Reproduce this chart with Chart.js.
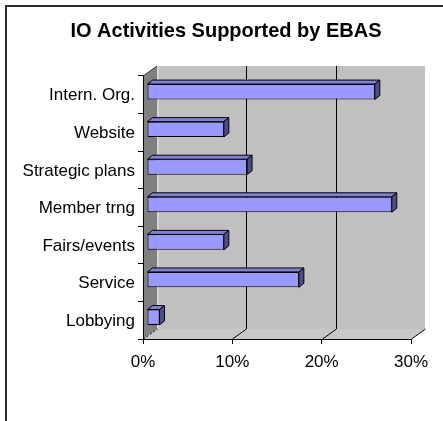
<!DOCTYPE html>
<html>
<head>
<meta charset="utf-8">
<title>IO Activities Supported by EBAS</title>
<script src="https://cdn.jsdelivr.net/npm/chart.js@4/dist/chart.umd.min.js"></script>
<style>
    html, body { margin: 0; padding: 0; background: #fff; overflow: hidden; }
    #box { position: absolute; left: 0; top: 0; width: 443px; height: 421px; }
    #frame { position: absolute; left: 5px; top: 5px; width: 460px; height: 440px;
             border-top: 2px solid #2b2b2b; border-left: 2px solid #2b2b2b; }
</style>
</head>
<body>
<div id="frame"></div>
<div id="box"><canvas id="grafico"></canvas></div>
<script>
var categorias = ["Intern. Org.", "Website", "Strategic plans", "Member trng", "Fairs/events", "Service", "Lobbying"];
var percentuais = [25.5, 8.6, 11.2, 27.4, 8.6, 17.0, 1.4];
var ticksX = [0, 10, 20, 30];

// profundidade da caixa 3D e das barras
var PROF_X = 14, PROF_Y = -10;
var DESL_X = 4, DESL_Y = -3;
var BARRA_X = 5, BARRA_Y = -4;

function poligono(ctx, pts, fill, stroke) {
    ctx.beginPath();
    ctx.moveTo(pts[0][0], pts[0][1]);
    for (var i = 1; i < pts.length; i++) ctx.lineTo(pts[i][0], pts[i][1]);
    ctx.closePath();
    if (fill) { ctx.fillStyle = fill; ctx.fill(); }
    if (stroke) { ctx.strokeStyle = stroke; ctx.lineWidth = 1; ctx.stroke(); }
}

var caixa3d = {
    id: "caixa3d",
    afterLayout: function (chart) {
        // título centralizado sobre a caixa inteira (frente + fundo)
        var t = chart.titleBlock;
        t.left = 41;
        t.right = 411;
        t.width = t.right - t.left;
    },
    beforeDraw: function (chart) {
        var ctx = chart.ctx, a = chart.chartArea, sx = chart.scales.x;
        var L = a.left, R = a.right, T = a.top, B = a.bottom;
        ctx.save();
        // parede do fundo
        poligono(ctx, [[L + PROF_X, T + PROF_Y], [R + PROF_X, T + PROF_Y], [R + PROF_X, B + PROF_Y], [L + PROF_X, B + PROF_Y]], "#c0c0c0");
        // piso
        poligono(ctx, [[L, B], [L + PROF_X, B + PROF_Y], [R + PROF_X, B + PROF_Y], [R, B]], "#c8c8c8");
        // parede lateral
        poligono(ctx, [[L, T], [L + PROF_X, T + PROF_Y], [L + PROF_X, B + PROF_Y], [L, B]], "#808080");
        ctx.fillStyle = "#d6d6d6";
        ctx.fillRect(L + PROF_X, T + PROF_Y, 2, B - T);
        ctx.strokeStyle = "#3a3a3a";
        ctx.lineWidth = 1;
        ctx.beginPath();
        ctx.moveTo(L, T); ctx.lineTo(L + PROF_X, T + PROF_Y);
        ctx.stroke();
        // linhas de grade no fundo e no piso
        ctx.strokeStyle = "#000";
        ticksX.forEach(function (v) {
            var px = Math.round(sx.getPixelForValue(v)) + 0.5;
            ctx.beginPath();
            if (v > 0 && v < sx.max) {
                ctx.moveTo(px + PROF_X, T + PROF_Y);
                ctx.lineTo(px + PROF_X, B + PROF_Y);
            }
            ctx.moveTo(px, B);
            ctx.lineTo(px + PROF_X, B + PROF_Y);
            ctx.setLineDash(v === 0 ? [2, 2] : []);
            ctx.stroke();
        });
        ctx.restore();
    },
    beforeDatasetsDraw: function (chart) {
        chart.ctx.save();
        chart.ctx.translate(DESL_X, DESL_Y);
    },
    afterDatasetsDraw: function (chart) {
        var ctx = chart.ctx;
        chart.getDatasetMeta(0).data.forEach(function (el) {
            var p = el.getProps(["x", "y", "base", "height"], true);
            var topo = p.y - p.height / 2, baixo = p.y + p.height / 2;
            poligono(ctx, [[p.base, topo], [p.base + BARRA_X, topo + BARRA_Y], [p.x + BARRA_X, topo + BARRA_Y], [p.x, topo]], "#8080d8", "#000");
            poligono(ctx, [[p.x, topo], [p.x + BARRA_X, topo + BARRA_Y], [p.x + BARRA_X, baixo + BARRA_Y], [p.x, baixo]], "#4d4d88", "#000");
        });
        ctx.restore();
    }
};

Chart.defaults.font.family = "'Liberation Sans', Arial, sans-serif";
Chart.defaults.color = "#000";

new Chart(document.getElementById("grafico").getContext("2d"), {
    type: "bar",
    data: {
        labels: categorias,
        datasets: [{
            data: percentuais,
            backgroundColor: "#9999ff",
            borderColor: "#000",
            borderWidth: 1,
            borderSkipped: false,
            barPercentage: 0.41,
            categoryPercentage: 1
        }]
    },
    plugins: [caixa3d],
    options: {
        indexAxis: "y",
        responsive: true,
        maintainAspectRatio: false,
        animation: false,
        layout: { padding: { left: 0, top: 0, right: 32, bottom: 0 } },
        plugins: {
            legend: { display: false },
            tooltip: { enabled: false },
            title: {
                display: true,
                text: "IO Activities Supported by EBAS",
                font: { size: 20, weight: "bold" },
                color: "#000",
                padding: { top: 19, bottom: 33 }
            }
        },
        scales: {
            x: {
                min: 0,
                max: 30,
                afterFit: function (s) { s.height = 82; },
                ticks: {
                    stepSize: 10,
                    padding: 8,
                    font: { size: 17 },
                    callback: function (v) { return v + "%"; }
                },
                grid: { drawOnChartArea: false, tickLength: 5, color: "#000" },
                border: { color: "#000" }
            },
            y: {
                afterFit: function (s) { s.width = 143; },
                ticks: { padding: 3, labelOffset: 1, font: { size: 17 } },
                grid: { drawOnChartArea: false, tickLength: 5, color: "#000", offset: true },
                border: { color: "#000" }
            }
        }
    }
});
</script>
</body>
</html>
